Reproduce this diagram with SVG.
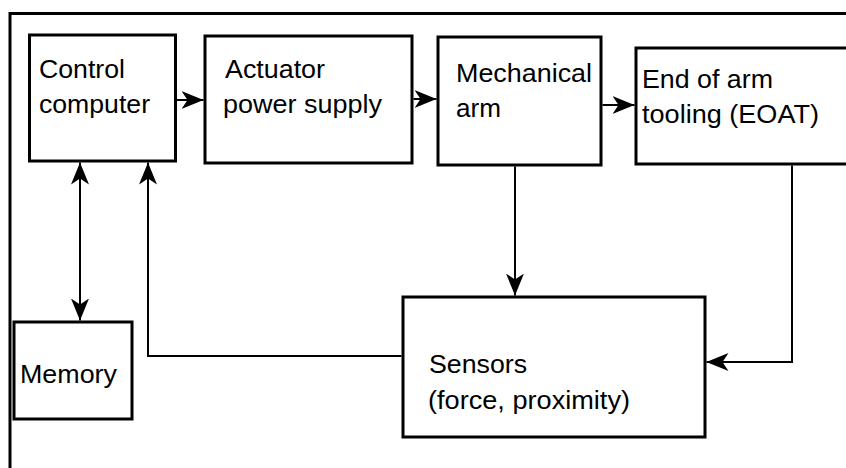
<svg xmlns="http://www.w3.org/2000/svg" width="846" height="468" viewBox="0 0 846 468">
<style>
.box{fill:#fff;stroke:#000;stroke-width:3}
.lbl{font-family:"Liberation Sans",Arial,sans-serif;font-size:25px;fill:#000}
.con{fill:none;stroke:#000;stroke-width:2}
.frame{fill:none;stroke:#000;stroke-width:3}
</style>
<defs>
<marker id="ah" viewBox="0 0 22 18" refX="22" refY="9" markerWidth="22" markerHeight="18" markerUnits="userSpaceOnUse" orient="auto-start-reverse">
<path d="M0,0 L22,9 L0,18 L6,9 Z" fill="#000"/>
</marker>
</defs>
<rect width="846" height="468" fill="#fff"/>
<path class="frame" d="M10,470 V13.5 H850"/>
<g id="control">
<rect class="box" x="29.5" y="35" width="146" height="126"/>
<text class="lbl" x="39" y="78" textLength="86" lengthAdjust="spacingAndGlyphs">Control</text>
<text class="lbl" x="39" y="113" textLength="111" lengthAdjust="spacingAndGlyphs">computer</text>
</g>
<g id="actuator">
<rect class="box" x="205" y="36" width="207" height="127"/>
<text class="lbl" x="225" y="78" textLength="100" lengthAdjust="spacingAndGlyphs">Actuator</text>
<text class="lbl" x="223" y="113" textLength="159" lengthAdjust="spacingAndGlyphs">power supply</text>
</g>
<g id="mechanical">
<rect class="box" x="438" y="37" width="163" height="128"/>
<text class="lbl" x="456" y="82" textLength="136" lengthAdjust="spacingAndGlyphs">Mechanical</text>
<text class="lbl" x="456" y="117" textLength="45" lengthAdjust="spacingAndGlyphs">arm</text>
</g>
<g id="eoat">
<rect class="box" x="636" y="48" width="220" height="116"/>
<text class="lbl" x="642" y="88" textLength="131" lengthAdjust="spacingAndGlyphs">End of arm</text>
<text class="lbl" x="642" y="123" textLength="177" lengthAdjust="spacingAndGlyphs">tooling (EOAT)</text>
</g>
<g id="sensors">
<rect class="box" x="403" y="297" width="302" height="140"/>
<text class="lbl" x="429" y="373" textLength="98" lengthAdjust="spacingAndGlyphs">Sensors</text>
<text class="lbl" x="428" y="409" textLength="202" lengthAdjust="spacingAndGlyphs">(force, proximity)</text>
</g>
<g id="memory">
<rect class="box" x="14" y="322" width="118" height="97"/>
<text class="lbl" x="20" y="383" textLength="97" lengthAdjust="spacingAndGlyphs">Memory</text>
</g>
<g id="connectors">
<path class="con" d="M177,100 H203.5" marker-end="url(#ah)"/>
<path class="con" d="M413.5,99 H436.5" marker-end="url(#ah)"/>
<path class="con" d="M602.5,105 H634.5" marker-end="url(#ah)"/>
<path class="con" d="M515,166.5 V295.5" marker-end="url(#ah)"/>
<path class="con" d="M792,165.5 V362 H706.5" marker-end="url(#ah)"/>
<path class="con" d="M401.5,356 H148 V162.5" marker-end="url(#ah)"/>
<path class="con" d="M80,162.5 V320.5" marker-start="url(#ah)" marker-end="url(#ah)"/>
</g>
</svg>
